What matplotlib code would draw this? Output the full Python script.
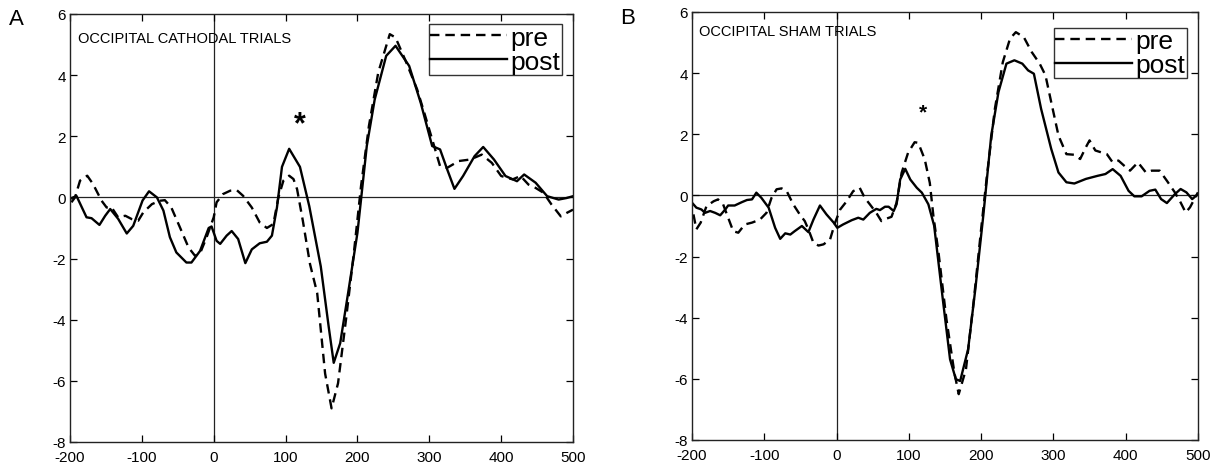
import numpy as np
import matplotlib
matplotlib.use("Agg")
import matplotlib.pyplot as plt

plt.rcParams["axes.unicode_minus"] = False

# ---- data (time in ms, amplitude in uV) ----
# Panel A: occipital cathodal trials
a_pre_t = [-198, -193, -186, -176, -168, -156, -149, -142, -133, -123, -114, -105, -98, -86,
           -75, -68, -59, -47, -35, -26, -19, -10, 0, 4, 13, 23, 32, 41, 53, 64, 74, 83, 90,
           97, 105, 111, 116, 124, 134, 144, 155, 164, 173, 184, 195, 205, 216, 229, 245, 253,
           267, 283, 293, 304, 315, 325, 341, 357, 373, 387, 400, 416, 427, 438, 448, 459, 470,
           483, 491, 500]
a_pre_v = [-0.16, 0.0, 0.55, 0.71, 0.44, -0.11, -0.33, -0.33, -0.65, -0.6, -0.71, -0.76, -0.49,
           -0.22, -0.11, -0.09, -0.33, -0.98, -1.64, -1.91, -1.83, -1.31, -0.65, -0.16, 0.11,
           0.22, 0.24, 0.05, -0.33, -0.82, -1.0, -0.87, 0.0, 0.55, 0.71, 0.6, 0.27, -0.76, -2.18,
           -3.13, -5.76, -6.9, -6.08, -4.01, -1.82, 0.37, 2.34, 4.09, 5.34, 5.23, 4.47, 3.54,
           2.77, 1.9, 1.02, 0.97, 1.19, 1.24, 1.4, 1.13, 0.7, 0.59, 0.7, 0.42, 0.31, 0.15,
           -0.23, -0.62, -0.51, -0.4]

a_post_t = [-200, -191, -177, -170, -159, -151, -144, -133, -121, -112, -99, -90, -79, -70, -61,
            -52, -38, -31, -19, -7, -3, 4, 9, 18, 25, 34, 44, 53, 64, 74, 81, 88, 95, 105, 120,
            133, 149, 160, 167, 176, 187, 200, 205, 213, 224, 240, 253, 272, 288, 304, 315, 325,
            335, 347, 363, 375, 390, 406, 422, 432, 448, 464, 480, 491, 500]
a_post_v = [-0.05, 0.05, -0.65, -0.68, -0.9, -0.6, -0.38, -0.7, -1.18, -0.93, -0.1, 0.2, 0.0,
            -0.43, -1.3, -1.8, -2.13, -2.13, -1.75, -1.0, -0.95, -1.42, -1.52, -1.25, -1.1,
            -1.36, -2.15, -1.7, -1.5, -1.45, -1.25, -0.33, 1.0, 1.59, 1.0, -0.29, -2.26, -4.23,
            -5.41, -4.77, -3.13, -1.16, -0.07, 1.68, 3.2, 4.63, 4.96, 4.3, 3.1, 1.68, 1.57,
            0.91, 0.28, 0.7, 1.35, 1.65, 1.24, 0.7, 0.53, 0.75, 0.48, 0.04, -0.07, -0.02, 0.04]

# Panel B: occipital sham trials
b_pre_t = [-198, -194, -188, -180, -170, -164, -157, -150, -143, -136, -127, -117, -106, -97,
           -90, -83, -76, -69, -60, -51, -44, -39, -32, -25, -18, -9, -2, 5, 14, 23, 32, 39, 46,
           55, 62, 69, 76, 83, 90, 99, 108, 113, 122, 129, 134, 141, 152, 163, 169, 179, 190,
           200, 208, 219, 230, 240, 248, 259, 270, 281, 289, 297, 307, 318, 329, 337, 345, 350,
           358, 366, 374, 382, 390, 398, 406, 417, 428, 436, 447, 457, 468, 476, 483, 489, 500]
b_pre_v = [-0.62, -1.11, -0.89, -0.35, -0.19, -0.13, -0.29, -0.73, -1.17, -1.22, -0.95, -0.89,
           -0.79, -0.57, -0.08, 0.2, 0.23, 0.14, -0.29, -0.62, -0.84, -1.11, -1.55, -1.64,
           -1.6, -1.44, -0.89, -0.46, -0.19, 0.14, 0.25, -0.08, -0.29, -0.57, -0.84, -0.76,
           -0.7, -0.24, 0.74, 1.4, 1.74, 1.72, 1.18, 0.41, -0.68, -1.86, -4.05, -5.8, -6.5,
           -5.69, -3.4, -1.1, 0.64, 2.83, 4.36, 5.13, 5.34, 5.18, 4.69, 4.31, 3.93, 3.05,
           1.96, 1.35, 1.33, 1.19, 1.58, 1.8, 1.47, 1.41, 1.35, 1.08, 1.14, 0.97, 0.81, 1.08,
           0.75, 0.81, 0.81, 0.48, 0.1, -0.23, -0.56, -0.39, 0.1]

b_post_t = [-200, -194, -187, -182, -175, -168, -161, -154, -150, -141, -131, -124, -117, -111,
            -104, -94, -85, -78, -71, -64, -58, -48, -39, -32, -23, -14, -4, 1, 9, 21, 30, 37,
            46, 55, 60, 67, 72, 79, 83, 88, 95, 102, 111, 118, 127, 135, 147, 157, 165, 171,
            182, 192, 203, 214, 224, 235, 246, 257, 265, 273, 283, 297, 307, 318, 329, 345,
            361, 372, 382, 393, 404, 412, 422, 433, 441, 449, 457, 468, 476, 484, 492, 500]
b_post_v = [-0.24, -0.4, -0.46, -0.57, -0.51, -0.57, -0.65, -0.46, -0.33, -0.33, -0.22, -0.15,
            -0.13, 0.09, -0.08, -0.4, -1.06, -1.42, -1.24, -1.28, -1.17, -1.0, -1.2, -0.79,
            -0.33, -0.62, -0.89, -1.06, -0.95, -0.81, -0.73, -0.79, -0.57, -0.44, -0.48,
            -0.37, -0.37, -0.51, -0.29, 0.52, 0.87, 0.52, 0.25, 0.09, -0.29, -0.99, -3.4,
            -5.36, -6.01, -6.07, -5.03, -3.06, -0.66, 1.96, 3.38, 4.31, 4.42, 4.31, 4.09,
            3.98, 2.83, 1.52, 0.75, 0.43, 0.39, 0.54, 0.64, 0.7, 0.86, 0.64, 0.15, -0.03,
            -0.03, 0.15, 0.19, -0.12, -0.25, 0.04, 0.21, 0.1, -0.12, 0.04]

panel_letters = ["A", "B"]
titles = ["OCCIPITAL CATHODAL TRIALS", "OCCIPITAL SHAM TRIALS"]
star_pos = [(120, 2.39), (119, 2.72)]
xticks = np.arange(-200, 501, 100)
yticks = np.arange(-8, 7, 2)

font = ["Liberation Sans", "DejaVu Sans"]

fig = plt.figure(figsize=(12.13, 4.64), dpi=100)
ax_a = fig.add_axes([0.0577, 0.0453, 0.4147, 0.9224])
ax_b = fig.add_axes([0.5705, 0.0496, 0.4171, 0.9224])

series = [(a_pre_t, a_pre_v, a_post_t, a_post_v), (b_pre_t, b_pre_v, b_post_t, b_post_v)]
title_xy = [(0.016, 0.944), (0.014, 0.956)]
star_size = [22, 15]
leg_anchor = [(0.978, 0.976), (0.978, 0.963)]

for i, ax in enumerate([ax_a, ax_b]):
    pre_t, pre_v, post_t, post_v = series[i]
    ax.axhline(0, color="#222222", lw=0.9, zorder=1)
    ax.axvline(0, color="#222222", lw=0.9, zorder=1)
    ax.plot(pre_t, pre_v, color="black", lw=1.7, ls=(0, (4, 2.5)), label="pre")
    ax.plot(post_t, post_v, color="black", lw=1.7, label="post")

    ax.set_xlim(-200, 500)
    ax.set_ylim(-8, 6)
    ax.set_xticks(xticks)
    ax.set_yticks(yticks)
    ax.tick_params(direction="in", length=5, width=0.9, top=True, right=True, pad=3,
                   labelsize=11)
    ax.tick_params(axis="x", pad=6)
    for lab in ax.get_xticklabels() + ax.get_yticklabels():
        lab.set_family(font)
    for sp in ax.spines.values():
        sp.set_linewidth(1.0)
        sp.set_color("#222222")

    ax.text(*title_xy[i], titles[i], transform=ax.transAxes, fontsize=10.5,
            family=font, va="center", ha="left")
    ax.text(*star_pos[i], "*", fontsize=star_size[i], fontweight="bold",
            ha="center", va="center", family=font)

    leg = ax.legend(loc="upper right", bbox_to_anchor=leg_anchor[i],
                    prop={"family": font, "size": 19}, frameon=True, fancybox=False,
                    handlelength=2.9, handletextpad=0.15, labelspacing=0.0,
                    borderpad=0.05, borderaxespad=0)
    leg.get_frame().set_edgecolor("black")
    leg.get_frame().set_linewidth(1.0)

fig.text(0.0132, 0.957, panel_letters[0], fontsize=16, family=font, ha="center", va="center")
fig.text(0.517, 0.961, panel_letters[1], fontsize=16, family=font, ha="center", va="center")

fig.savefig("out.png", dpi=100)
